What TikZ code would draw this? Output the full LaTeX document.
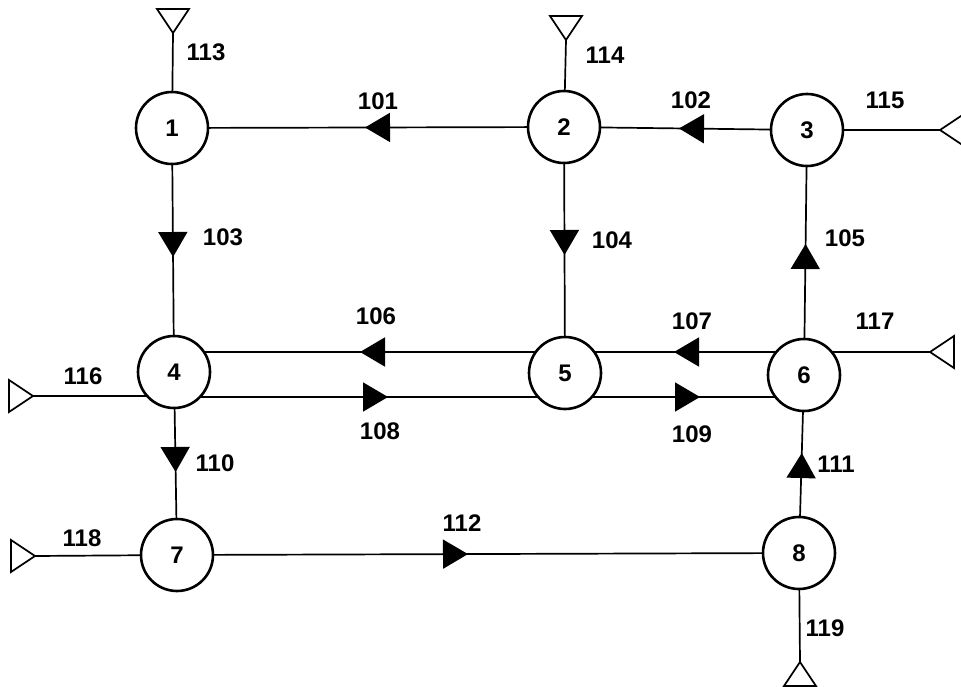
\documentclass[tikz,border=0pt]{standalone}
\usepackage{fontspec}
\setmainfont{Liberation Sans}
\usetikzlibrary{arrows.meta,decorations.markings,backgrounds}
\tikzset{
  station/.style={circle,draw,line width=2.6pt,fill=white,minimum size=72pt,inner sep=0pt,
    font=\fontsize{24}{24}\selectfont\bfseries},
  lab/.style={font=\fontsize{24}{24}\selectfont\bfseries,inner sep=0pt},
  conn/.style={line width=1.7pt},
  flow/.style={conn,decoration={markings,
      mark=at position #1 with {\arrow{Triangle[length=25pt,width=29pt]}}},
    postaction={decorate}},
  term/.pic={\draw[line width=1.7pt,line join=miter] (0,0) -- (-24,16) -- (-24,-16) -- cycle;}
}
\begin{document}
\begin{tikzpicture}[x=1pt,y=-1pt]
\useasboundingbox (0,0) rectangle (961,687);
% stations
\node[station] (n1) at (172,128) {1};
\node[station] (n2) at (564,127) {2};
\node[station] (n3) at (807,130) {3};
\node[station] (n4) at (174,372) {4};
\node[station] (n5) at (565,373) {5};
\node[station] (n6) at (804,375) {6};
\node[station] (n7) at (177,555) {7};
\node[station] (n8) at (799,553) {8};
% terminal ends
\coordinate (t113) at (173,33);
\coordinate (t114) at (566,40);
\coordinate (t115) at (940,130);
\coordinate (t116) at (33,396);
\coordinate (t117) at (930,352);
\coordinate (t118) at (35,556);
\coordinate (t119) at (800,662);
\coordinate (yu) at (0,352);
\coordinate (yl) at (0,397);
\pic[rotate=-90] at (t113) {term};
\pic[rotate=-90] at (t114) {term};
\pic[rotate=180] at (t115) {term};
\pic[rotate=0] at (t116) {term};
\pic[rotate=180] at (t117) {term};
\pic[rotate=0] at (t118) {term};
\pic[rotate=90] at (t119) {term};
% labels
\node[lab] (l101) at (378,101) {101};
\node[lab] (l102) at (691,100) {102};
\node[lab] (l103) at (223,237) {103};
\node[lab] (l104) at (612,240) {104};
\node[lab] (l105) at (845,238) {105};
\node[lab] (l106) at (376,316) {106};
\node[lab] (l107) at (692,321) {107};
\node[lab] (l108) at (380,431) {108};
\node[lab] (l109) at (692,434) {109};
\node[lab] (l110) at (215,463) {110};
\node[lab] (l111) at (836,464) {111};
\node[lab] (l112) at (462,523) {112};
\node[lab] (l113) at (206,52) {113};
\node[lab] (l114) at (605,55) {114};
\node[lab] (l115) at (885,100) {115};
\node[lab] (l116) at (83,376) {116};
\node[lab] (l117) at (875,321) {117};
\node[lab] (l118) at (82,538) {118};
\node[lab] (l119) at (825,628) {119};
% connectors
\begin{scope}[on background layer]
\draw[flow=199pt] (n2.center) -- (n1.center);
\draw[flow=128pt] (n3.center) -- (n2.center);
\draw[flow=129pt] (n1.center) -- (n4.center);
\draw[flow=128pt] (n2.center) -- (n5.center);
\draw[flow=131pt] (n6.center) -- (n3.center);
\draw[flow=205pt] (n5.center |- yu) -- (n4.center |- yu);
\draw[flow=130pt] (n6.center |- yu) -- (n5.center |- yu);
\draw[flow=214pt] (n4.center |- yl) -- (n5.center |- yl);
\draw[flow=135pt] (n5.center |- yl) -- (n6.center |- yl);
\draw[flow=100pt] (n4.center) -- (n7.center);
\draw[flow=100pt] (n8.center) -- (n6.center);
\draw[flow=291pt] (n7.center) -- (n8.center);
\draw[conn] (t113) -- (n1.center);
\draw[conn] (t114) -- (n2.center);
\draw[conn] (t115) -- (n3.center);
\draw[conn] (t116) -- (n4.center |- t116);
\draw[conn] (t117) -- (n6.center |- t117);
\draw[conn] (t118) -- (n7.center);
\draw[conn] (t119) -- (n8.center);
\end{scope}
\end{tikzpicture}
\end{document}
